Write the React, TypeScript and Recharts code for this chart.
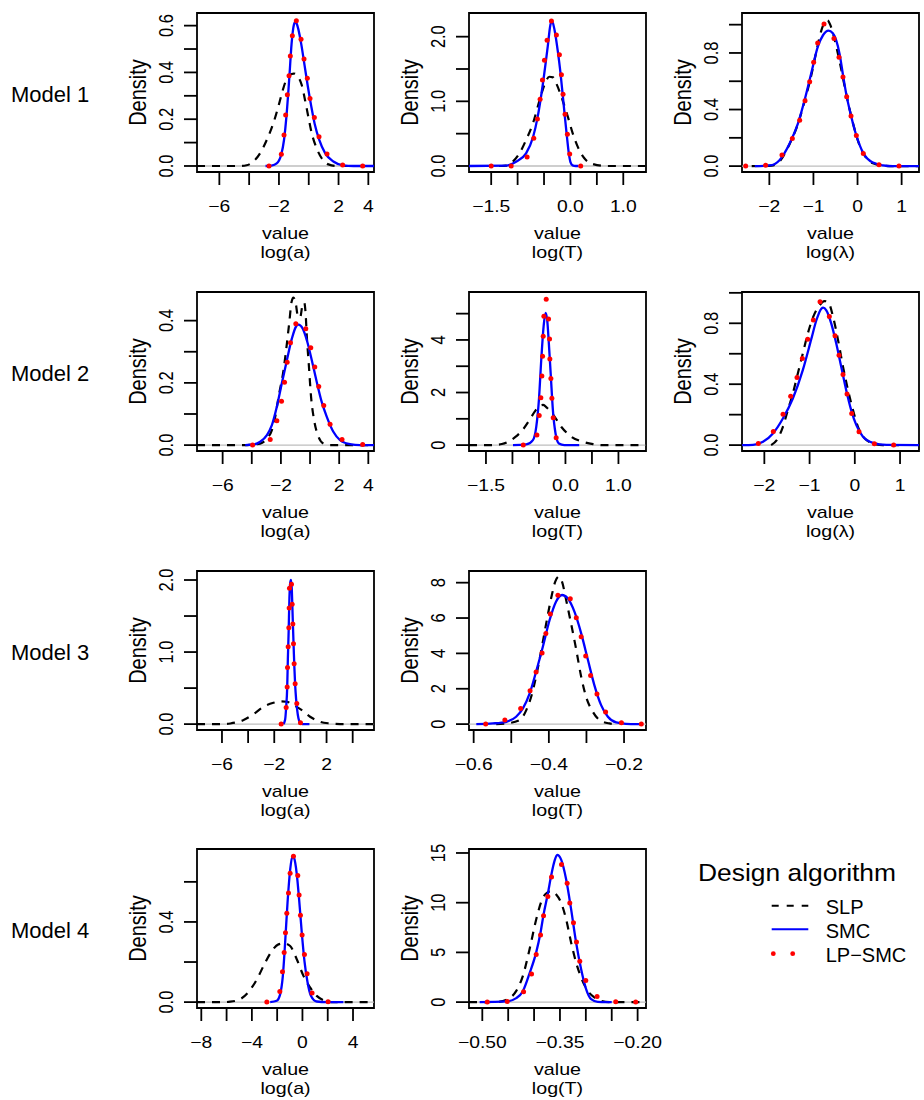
import React from 'react';
import { ComposedChart, Line, XAxis, YAxis, ReferenceLine, ReferenceArea } from 'recharts';

const FONT = '"Liberation Sans", Arial, Helvetica, sans-serif';
const STRETCH = 1.17;

type P = number[][];

// ---------- Model 1, log(a) ----------
const m1aSLP: P = [[-7.5,0],[-4.6,0],[-4.17,0.003],[-3.72,0.019],[-3.27,0.054],[-2.82,0.111],[-2.38,0.182],[-2.04,0.254],[-1.77,0.318],[-1.55,0.362],[-1.3,0.388],[-1.0,0.395],[-0.75,0.384],[-0.47,0.346],[-0.25,0.282],[-0.03,0.211],[0.2,0.14],[0.53,0.076],[0.87,0.033],[1.32,0.007],[1.9,0],[4.38,0]];
const m1aSMC: P = [[-2.9,0],[-2.5,0.002],[-2.15,0.011],[-1.84,0.05],[-1.66,0.111],[-1.48,0.225],[-1.3,0.382],[-1.15,0.524],[-1.0,0.603],[-0.9,0.616],[-0.8,0.607],[-0.7,0.585],[-0.5,0.52],[-0.28,0.43],[-0.06,0.34],[0.17,0.255],[0.4,0.18],[0.7,0.113],[1.1,0.055],[1.65,0.019],[2.3,0.003],[3.0,0],[4.38,0]];
const m1aLP: P = [[-2.667,0],[-1.839,0.05],[-1.66,0.133],[-1.548,0.218],[-1.436,0.304],[-1.324,0.386],[-1.235,0.47],[-1.101,0.557],[-0.832,0.621],[-0.519,0.542],[-0.318,0.457],[-0.094,0.375],[0.085,0.289],[0.376,0.207],[0.689,0.125],[1.226,0.051],[2.277,0.004],[3.62,0]];

// ---------- Model 1, log(T) ----------
const m1TSLP: P = [[-1.92,0],[-1.3,0],[-1.22,0.005],[-1.09,0.067],[-0.965,0.196],[-0.84,0.402],[-0.71,0.66],[-0.59,1.0],[-0.49,1.26],[-0.4,1.38],[-0.33,1.37],[-0.27,1.28],[-0.15,1.02],[-0.05,0.763],[0.043,0.505],[0.137,0.299],[0.263,0.119],[0.42,0.031],[0.67,0],[1.43,0]];
const m1TSMC: P = [[-1.92,0],[-1.22,0.005],[-1.03,0.067],[-0.84,0.196],[-0.71,0.44],[-0.62,0.76],[-0.52,1.28],[-0.43,1.845],[-0.38,2.18],[-0.35,2.247],[-0.3,2.1],[-0.24,1.78],[-0.19,1.45],[-0.15,1.13],[-0.11,0.8],[-0.07,0.48],[-0.03,0.19],[0.0,0.06],[0.04,0.01],[0.1,0],[0.15,0]];
const m1TLP: P = [[-1.5,0],[-1.122,0],[-0.82,0.139],[-0.694,0.428],[-0.625,0.727],[-0.574,1.031],[-0.53,1.33],[-0.492,1.634],[-0.442,1.943],[-0.36,2.242],[-0.266,2.026],[-0.209,1.722],[-0.171,1.412],[-0.14,1.108],[-0.102,0.799],[-0.058,0.49],[-0.014,0.186],[0.194,0]];

// ---------- Model 1, log(lambda) ----------
const m1lSLP: P = [[-2.4,0],[-1.95,0.004],[-1.75,0.04],[-1.55,0.15],[-1.35,0.3],[-1.2,0.46],[-1.05,0.64],[-0.92,0.83],[-0.82,0.96],[-0.74,1.02],[-0.68,1.03],[-0.62,1.0],[-0.55,0.93],[-0.42,0.76],[-0.25,0.5],[-0.1,0.3],[0.02,0.17],[0.17,0.07],[0.35,0.02],[0.6,0.003],[0.9,0],[1.39,0]];
const m1lSMC: P = [[-2.33,0],[-1.99,0.005],[-1.77,0.042],[-1.54,0.16],[-1.35,0.302],[-1.2,0.467],[-1.05,0.656],[-0.9,0.844],[-0.78,0.927],[-0.66,0.958],[-0.56,0.939],[-0.405,0.79],[-0.33,0.645],[-0.25,0.5],[-0.15,0.36],[-0.03,0.22],[0.13,0.092],[0.35,0.025],[0.577,0.006],[0.8,0],[1.394,0]];
const m1lLP: P = [[-2.537,0],[-2.083,0.007],[-1.713,0.078],[-1.478,0.196],[-1.312,0.325],[-1.191,0.462],[-1.085,0.597],[-0.995,0.734],[-0.904,0.87],[-0.76,1.005],[-0.534,0.903],[-0.42,0.769],[-0.33,0.63],[-0.246,0.491],[-0.148,0.354],[-0.027,0.217],[0.131,0.09],[0.487,0.009],[0.94,0]];

// ---------- Model 2, log(a) ----------
const m2aSLP: P = [[-7.76,0],[-4.5,0],[-3.42,0.005],[-2.96,0.021],[-2.62,0.048],[-2.39,0.091],[-2.16,0.155],[-1.82,0.241],[-1.59,0.326],[-1.41,0.401],[-1.27,0.46],[-1.14,0.474],[-0.98,0.455],[-0.84,0.415],[-0.68,0.41],[-0.52,0.45],[-0.4,0.458],[-0.3,0.42],[-0.22,0.348],[-0.09,0.262],[0.07,0.155],[0.28,0.08],[0.58,0.027],[0.92,0.005],[1.37,0],[4.39,0]];
const m2aSMC: P = [[-4.45,0],[-3.88,0.002],[-3.42,0.011],[-2.96,0.032],[-2.62,0.064],[-2.28,0.123],[-1.94,0.198],[-1.59,0.273],[-1.25,0.342],[-0.95,0.382],[-0.8,0.387],[-0.5,0.374],[-0.22,0.337],[0.12,0.273],[0.46,0.203],[0.8,0.139],[1.15,0.091],[1.6,0.043],[2.06,0.016],[2.74,0.003],[3.43,0],[4.39,0]];
const m2aLP: P = [[-3.945,0],[-2.735,0.018],[-2.279,0.078],[-1.959,0.141],[-1.753,0.202],[-1.571,0.266],[-1.342,0.329],[-0.977,0.39],[-0.292,0.374],[0.05,0.313],[0.324,0.251],[0.598,0.188],[0.941,0.127],[1.374,0.067],[2.196,0.018],[3.612,0.002]];

// ---------- Model 2, log(T) ----------
const m2TSLP: P = [[-1.82,0],[-1.35,0],[-1.2,0.04],[-1.08,0.13],[-0.95,0.3],[-0.8,0.6],[-0.68,0.95],[-0.57,1.3],[-0.48,1.5],[-0.42,1.53],[-0.35,1.42],[-0.24,1.18],[-0.08,0.7],[0.11,0.32],[0.33,0.127],[0.52,0.038],[0.7,0],[1.52,0]];
const m2TSMC: P = [[-0.99,0],[-0.74,0.025],[-0.614,0.19],[-0.551,0.696],[-0.501,1.709],[-0.457,3.228],[-0.413,4.494],[-0.376,5.025],[-0.344,4.747],[-0.313,3.861],[-0.275,2.595],[-0.237,1.329],[-0.187,0.443],[-0.124,0.063],[-0.02,0],[0.26,0]];
const m2TLP: P = [[-0.796,0],[-0.539,0.38],[-0.495,1.127],[-0.464,1.797],[-0.445,2.633],[-0.432,3.38],[-0.42,4.139],[-0.407,4.899],[-0.363,5.544],[-0.319,4.797],[-0.3,4.038],[-0.294,3.278],[-0.275,2.531],[-0.256,1.785],[-0.231,1.038],[-0.175,0.278]];

// ---------- Model 2, log(lambda) ----------
const m2lSLP: P = [[-1.85,0],[-1.7,0.044],[-1.59,0.12],[-1.48,0.23],[-1.37,0.339],[-1.26,0.47],[-1.15,0.601],[-1.04,0.732],[-0.92,0.842],[-0.78,0.918],[-0.67,0.946],[-0.59,0.94],[-0.48,0.842],[-0.37,0.689],[-0.26,0.514],[-0.15,0.361],[-0.04,0.23],[0.07,0.12],[0.22,0.044],[0.4,0.011],[0.62,0],[1.0,0]];
const m2lSMC: P = [[-2.49,0],[-2.25,0.002],[-2.03,0.022],[-1.81,0.077],[-1.59,0.175],[-1.37,0.306],[-1.15,0.492],[-0.96,0.699],[-0.85,0.82],[-0.74,0.896],[-0.7,0.903],[-0.63,0.885],[-0.52,0.798],[-0.41,0.667],[-0.3,0.514],[-0.19,0.361],[-0.08,0.23],[0.034,0.131],[0.181,0.055],[0.402,0.015],[0.697,0.002],[1.419,0]];
const m2lLP: P = [[-2.133,0.011],[-1.801,0.09],[-1.587,0.203],[-1.418,0.321],[-1.278,0.444],[-1.16,0.568],[-1.042,0.695],[-0.917,0.822],[-0.769,0.942],[-0.563,0.844],[-0.438,0.719],[-0.349,0.59],[-0.261,0.463],[-0.172,0.336],[-0.069,0.208],[0.093,0.087],[0.432,0.009],[0.859,0]];

// ---------- Model 3, log(a) ----------
const m3aSLP: P = [[-7.91,0],[-5.9,0],[-5.36,0.009],[-4.35,0.056],[-3.58,0.139],[-2.82,0.241],[-2.06,0.296],[-1.55,0.315],[-1.04,0.31],[-0.53,0.264],[0.11,0.194],[0.74,0.102],[1.51,0.032],[2.27,0.009],[3.03,0],[5.63,0]];
const m3aSMC: P = [[-1.3,0],[-1.17,0.06],[-1.09,0.23],[-1.01,0.51],[-0.96,0.9],[-0.9,1.28],[-0.84,1.75],[-0.78,1.96],[-0.72,2.0],[-0.66,1.88],[-0.61,1.6],[-0.56,1.31],[-0.51,1.04],[-0.46,0.78],[-0.4,0.54],[-0.33,0.35],[-0.25,0.2],[-0.15,0.08],[-0.03,0.02],[0.1,0.003],[0.2,0],[0.69,0]];
const m3aLP: P = [[-1.471,0],[-1.089,0.231],[-1.013,0.514],[-0.987,0.787],[-0.936,1.074],[-0.885,1.338],[-0.86,1.611],[-0.835,1.884],[-0.682,1.94],[-0.631,1.662],[-0.58,1.389],[-0.529,1.116],[-0.478,0.838],[-0.402,0.56],[-0.275,0.287],[0.005,0.019]];

// ---------- Model 3, log(T) ----------
const m3TSLP: P = [[-0.54,0],[-0.513,0.038],[-0.478,0.226],[-0.46,0.792],[-0.447,1.547],[-0.434,2.679],[-0.42,4.189],[-0.407,5.698],[-0.394,7.113],[-0.383,8.057],[-0.374,8.34],[-0.365,8.057],[-0.354,7.019],[-0.341,5.698],[-0.327,4.189],[-0.314,2.679],[-0.301,1.547],[-0.283,0.698],[-0.265,0.226],[-0.239,0.038],[-0.225,0]];
const m3TSMC: P = [[-0.593,0],[-0.549,0.038],[-0.513,0.132],[-0.487,0.415],[-0.469,0.887],[-0.451,1.736],[-0.434,2.962],[-0.416,4.377],[-0.398,5.887],[-0.381,6.925],[-0.365,7.302],[-0.35,7.113],[-0.332,6.358],[-0.314,5.132],[-0.296,3.623],[-0.279,2.208],[-0.261,1.075],[-0.243,0.415],[-0.221,0.094],[-0.195,0.019],[-0.168,0],[-0.15,0]];
const m3TLP: P = [[-0.568,0],[-0.517,0.226],[-0.475,0.887],[-0.45,1.887],[-0.434,2.943],[-0.418,4.019],[-0.408,5.132],[-0.396,6.226],[-0.376,7.283],[-0.343,7.094],[-0.327,6.019],[-0.314,4.943],[-0.302,3.849],[-0.289,2.755],[-0.272,1.698],[-0.249,0.679],[-0.207,0.075],[-0.154,0]];

// ---------- Model 4, log(a) ----------
const m4aSLP: P = [[-8.34,0],[-6.2,0],[-5.71,0.002],[-4.92,0.015],[-4.26,0.051],[-3.6,0.114],[-2.95,0.197],[-2.42,0.255],[-1.9,0.288],[-1.45,0.293],[-0.97,0.28],[-0.45,0.214],[0.08,0.131],[0.6,0.073],[1.13,0.031],[1.79,0.007],[2.45,0],[5.66,0]];
const m4aSMC: P = [[-2.55,0],[-2.03,0.007],[-1.76,0.04],[-1.55,0.131],[-1.37,0.297],[-1.18,0.496],[-0.97,0.661],[-0.79,0.728],[-0.66,0.719],[-0.45,0.64],[-0.26,0.51],[-0.05,0.345],[0.16,0.205],[0.4,0.1],[0.66,0.033],[1.13,0.003],[1.92,0],[3.24,0]];
const m4aLP: P = [[-2.816,0],[-1.789,0.053],[-1.579,0.151],[-1.447,0.247],[-1.342,0.346],[-1.237,0.444],[-1.105,0.544],[-0.974,0.643],[-0.711,0.728],[-0.368,0.632],[-0.263,0.534],[-0.158,0.434],[-0.026,0.335],[0.158,0.237],[0.368,0.141],[0.763,0.046],[2.026,0.002]];

// ---------- Model 4, log(T) ----------
const m4TSLP: P = [[-0.5257,0],[-0.47,0.02],[-0.4505,0.301],[-0.4344,1.136],[-0.4216,2.64],[-0.4087,5.312],[-0.3959,8.319],[-0.383,10.491],[-0.3734,11.059],[-0.367,11.16],[-0.3573,10.825],[-0.3477,9.99],[-0.338,8.319],[-0.3284,5.981],[-0.3188,3.976],[-0.3091,2.472],[-0.2963,1.136],[-0.2834,0.468],[-0.2706,0.134],[-0.2545,0],[-0.1838,0]];
const m4TSMC: P = [[-0.5051,0],[-0.4537,0.067],[-0.4344,0.4],[-0.4216,1.1],[-0.4087,2.9],[-0.3959,5.0],[-0.3875,7.0],[-0.3817,8.8],[-0.3734,10.9],[-0.3663,12.9],[-0.3605,14.2],[-0.3554,14.8],[-0.3477,14.333],[-0.338,12.329],[-0.3284,9.322],[-0.3188,5.981],[-0.3091,3.308],[-0.2995,1.303],[-0.2898,0.301],[-0.277,0.033],[-0.2609,0],[-0.25,0]];
const m4TLP: P = [[-0.4904,0],[-0.4518,0.067],[-0.4203,1.036],[-0.4049,2.84],[-0.3959,4.778],[-0.3875,6.749],[-0.3817,8.687],[-0.3734,10.625],[-0.3663,12.596],[-0.347,13.832],[-0.3361,11.961],[-0.331,9.957],[-0.3239,7.985],[-0.3181,6.047],[-0.3117,4.109],[-0.3001,2.171],[-0.2783,0.568],[-0.2423,0.033],[-0.2037,0]];

// ---------- ticks ----------
const ticksA6 = [-6, -4, -2, 0, 2, 4];
const labelsA6 = ['\u22126', '', '\u22122', '', '2', '4'];
const labelsA6b = ['\u22126', '', '\u22122', '', '2', ''];
const ticksA8 = [-8, -6, -4, -2, 0, 2, 4];
const labelsA8 = ['\u22128', '', '\u22124', '', '0', '', '4'];
const ticksT15 = [-1.5, -1, -0.5, 0, 0.5, 1];
const labelsT15 = ['\u22121.5', '', '', '0.0', '', '1.0'];
const ticksL = [-2, -1, 0, 1];
const labelsL = ['\u22122', '\u22121', '0', '1'];
const ticksT6 = [-0.6, -0.5, -0.4, -0.3, -0.2];
const labelsT6 = ['\u22120.6', '', '\u22120.4', '', '\u22120.2'];
const ticksT5 = [-0.5, -0.45, -0.4, -0.35, -0.3, -0.25, -0.2];
const labelsT5 = ['\u22120.50', '', '', '\u22120.35', '', '', '\u22120.20'];

const seriesNames = ['SLP', 'SMC', 'LP\u2212SMC'];
const modelNames = ['Model 1', 'Model 2', 'Model 3', 'Model 4'];

const toObj = (arr: P) => arr.map(([x, y]) => ({ x, y }));

interface Spec {
  left: number; top: number;
  xDomain: number[]; yDomain: number[];
  xTicks: number[]; xLabels: string[];
  yTicks: number[]; yLabels: string[];
  slp: P; smc: P; lp: P; xlab: string;
}

const COLS = [197, 469.3, 742.3];
const ROWS = [13, 291.7, 571, 849.3];

const panels: Spec[] = [
  { left: COLS[0], top: ROWS[0], xDomain: [-7.5, 4.38], yDomain: [-0.0257, 0.654], xTicks: ticksA6, xLabels: labelsA6, yTicks: [0, 0.1, 0.2, 0.3, 0.4, 0.5, 0.6], yLabels: ['0.0', '', '0.2', '', '0.4', '', '0.6'], slp: m1aSLP, smc: m1aSMC, lp: m1aLP, xlab: 'log(a)' },
  { left: COLS[1], top: ROWS[0], xDomain: [-1.92, 1.43], yDomain: [-0.093, 2.366], xTicks: ticksT15, xLabels: labelsT15, yTicks: [0, 0.5, 1, 1.5, 2], yLabels: ['0.0', '', '1.0', '', '2.0'], slp: m1TSLP, smc: m1TSMC, lp: m1TLP, xlab: 'log(T)' },
  { left: COLS[2], top: ROWS[0], xDomain: [-2.62, 1.394], yDomain: [-0.0416, 1.0825], xTicks: ticksL, xLabels: labelsL, yTicks: [0, 0.2, 0.4, 0.6, 0.8, 1.0], yLabels: ['0.0', '', '0.4', '', '0.8', ''], slp: m1lSLP, smc: m1lSMC, lp: m1lLP, xlab: 'log(\u03bb)' },
  { left: COLS[0], top: ROWS[1], xDomain: [-7.76, 4.39], yDomain: [-0.0189, 0.492], xTicks: ticksA6, xLabels: labelsA6, yTicks: [0, 0.1, 0.2, 0.3, 0.4], yLabels: ['0.0', '', '0.2', '', '0.4'], slp: m2aSLP, smc: m2aSMC, lp: m2aLP, xlab: 'log(a)' },
  { left: COLS[1], top: ROWS[1], xDomain: [-1.82, 1.52], yDomain: [-0.224, 5.823], xTicks: ticksT15, xLabels: labelsT15, yTicks: [0, 1, 2, 3, 4, 5], yLabels: ['0', '', '2', '', '4', ''], slp: m2TSLP, smc: m2TSMC, lp: m2TLP, xlab: 'log(T)' },
  { left: COLS[2], top: ROWS[1], xDomain: [-2.494, 1.419], yDomain: [-0.0387, 1.0055], xTicks: ticksL, xLabels: labelsL, yTicks: [0, 0.2, 0.4, 0.6, 0.8, 1.0], yLabels: ['0.0', '', '0.4', '', '0.8', ''], slp: m2lSLP, smc: m2lSMC, lp: m2lLP, xlab: 'log(\u03bb)' },
  { left: COLS[0], top: ROWS[2], xDomain: [-7.91, 5.63], yDomain: [-0.0817, 2.125], xTicks: ticksA6, xLabels: labelsA6b, yTicks: [0, 0.5, 1, 1.5, 2], yLabels: ['0.0', '', '1.0', '', '2.0'], slp: m3aSLP, smc: m3aSMC, lp: m3aLP, xlab: 'log(a)' },
  { left: COLS[1], top: ROWS[2], xDomain: [-0.6124, -0.1416], yDomain: [-0.333, 8.66], xTicks: ticksT6, xLabels: labelsT6, yTicks: [0, 2, 4, 6, 8], yLabels: ['0', '2', '4', '6', '8'], slp: m3TSLP, smc: m3TSMC, lp: m3TLP, xlab: 'log(T)' },
  { left: COLS[0], top: ROWS[3], xDomain: [-8.34, 5.66], yDomain: [-0.0294, 0.764], xTicks: ticksA8, xLabels: labelsA8, yTicks: [0, 0.2, 0.4, 0.6], yLabels: ['0.0', '', '0.4', ''], slp: m4aSLP, smc: m4aSMC, lp: m4aLP, xlab: 'log(a)' },
  { left: COLS[1], top: ROWS[3], xDomain: [-0.5257, -0.1838], yDomain: [-0.592, 15.4], xTicks: ticksT5, xLabels: labelsT5, yTicks: [0, 5, 10, 15], yLabels: ['0', '5', '10', '15'], slp: m4TSLP, smc: m4TSMC, lp: m4TLP, xlab: 'log(T)' },
];

const BOX_W = 177, BOX_H = 159, PAD_L = 80, PAD_T = 10, PAD_R = 40, PAD_B = 95;

const findLabel = (ticks: number[], labels: string[], v: number) => {
  const i = ticks.findIndex((t) => Math.abs(t - v) < 1e-9);
  return i >= 0 ? labels[i] : '';
};

function Panel({ spec }: { spec: Spec }) {
  const W = PAD_L + BOX_W + PAD_R;
  const H = PAD_T + BOX_H + PAD_B;
  const xTick = (props: any) => {
    const { x, y, payload } = props;
    const lab = findLabel(spec.xTicks, spec.xLabels, payload.value);
    if (!lab) return <g />;
    return (
      <text transform={`translate(${x},${y + 26.5}) scale(${STRETCH},1)`} textAnchor="middle" fontSize={16.5} fontFamily={FONT} fill="#000">{lab}</text>
    );
  };
  const yTick = (props: any) => {
    const { x, y, payload } = props;
    const lab = findLabel(spec.yTicks, spec.yLabels, payload.value);
    if (!lab) return <g />;
    return (
      <text transform={`translate(${x - 11.3},${y}) scale(${STRETCH},1) rotate(-90)`} textAnchor="middle" fontSize={16.5} fontFamily={FONT} fill="#000">{lab}</text>
    );
  };
  const cx = PAD_L + BOX_W / 2;
  const cy = PAD_T + BOX_H / 2;
  const bottom = PAD_T + BOX_H;
  return (
    <div style={{ position: 'absolute', left: spec.left - PAD_L, top: spec.top - PAD_T, width: W, height: H }}>
      <ComposedChart width={W} height={H} margin={{ top: PAD_T, right: PAD_R, bottom: 0, left: 0 }}>
        <XAxis type="number" dataKey="x" domain={spec.xDomain} ticks={spec.xTicks} interval={0} allowDataOverflow axisLine={false} tickLine={{ stroke: '#000', strokeWidth: 1.8 }} tickSize={13} tickMargin={0} tick={xTick} height={PAD_B} />
        <YAxis type="number" dataKey="y" domain={spec.yDomain} ticks={spec.yTicks} interval={0} allowDataOverflow axisLine={false} tickLine={{ stroke: '#000', strokeWidth: 1.8 }} tickSize={13} tickMargin={0} tick={yTick} width={PAD_L} />
        <ReferenceLine y={0} stroke="#bebebe" strokeWidth={1.3} />
        <Line data={toObj(spec.slp)} dataKey="y" type="monotone" stroke="#000" strokeWidth={2.2} strokeDasharray="8 7" dot={false} activeDot={false} isAnimationActive={false} />
        <Line data={toObj(spec.smc)} dataKey="y" type="monotone" stroke="#0000ff" strokeWidth={2.3} dot={false} activeDot={false} isAnimationActive={false} />
        <Line data={toObj(spec.lp)} dataKey="y" type="linear" stroke="none" strokeWidth={0} dot={{ r: 2.5, fill: '#ff0000', stroke: 'none' }} activeDot={false} isAnimationActive={false} />
        <ReferenceArea x1={spec.xDomain[0]} x2={spec.xDomain[1]} y1={spec.yDomain[0]} y2={spec.yDomain[1]} fill="none" fillOpacity={0} stroke="#000" strokeWidth={1.8} ifOverflow="visible" />
      </ComposedChart>
      <svg width={W} height={H} style={{ position: 'absolute', left: 0, top: 0, pointerEvents: 'none' }}>
        <text transform={`translate(${PAD_L - 51.3},${cy}) scale(${STRETCH},1) rotate(-90)`} textAnchor="middle" fontSize={20} fontFamily={FONT} fill="#000">Density</text>
        <text transform={`translate(${cx},${bottom + 66.7}) scale(${STRETCH},1)`} textAnchor="middle" fontSize={16.8} fontFamily={FONT} fill="#000">value</text>
        <text transform={`translate(${cx},${bottom + 86}) scale(${STRETCH},1)`} textAnchor="middle" fontSize={16.8} fontFamily={FONT} fill="#000">{spec.xlab}</text>
      </svg>
    </div>
  );
}

export default function App() {
  return (
    <div style={{ position: 'absolute', left: 0, top: 0, width: 924, height: 1100, overflow: 'hidden', background: '#fff' }}>
      {panels.map((p, i) => <Panel key={i} spec={p} />)}
      <svg width={924} height={1100} style={{ position: 'absolute', left: 0, top: 0, pointerEvents: 'none' }}>
        {modelNames.map((m, i) => (
          <text key={m} x={11} y={ROWS[i] + BOX_H / 2 + 9.5} fontSize={22} fontFamily={FONT} fill="#000">{m}</text>
        ))}
        <text transform="translate(698,880.7) scale(1.1,1)" fontSize={24} fontFamily={FONT} fill="#000">Design algorithm</text>
        <line x1={771.7} x2={808.3} y1={905.7} y2={905.7} stroke="#000" strokeWidth={2} strokeDasharray="7 8" />
        <line x1={771.7} x2={808.3} y1={929.3} y2={929.3} stroke="#0000ff" strokeWidth={2} />
        <circle cx={773.3} cy={953.7} r={2.4} fill="#ff0000" />
        <circle cx={792.7} cy={953.7} r={2.4} fill="#ff0000" />
        <text x={825.7} y={914} fontSize={20} fontFamily={FONT} fill="#000">{seriesNames[0]}</text>
        <text x={825.7} y={937.5} fontSize={20} fontFamily={FONT} fill="#000">{seriesNames[1]}</text>
        <text x={825.7} y={961.7} fontSize={20} fontFamily={FONT} fill="#000">{seriesNames[2]}</text>
      </svg>
    </div>
  );
}
